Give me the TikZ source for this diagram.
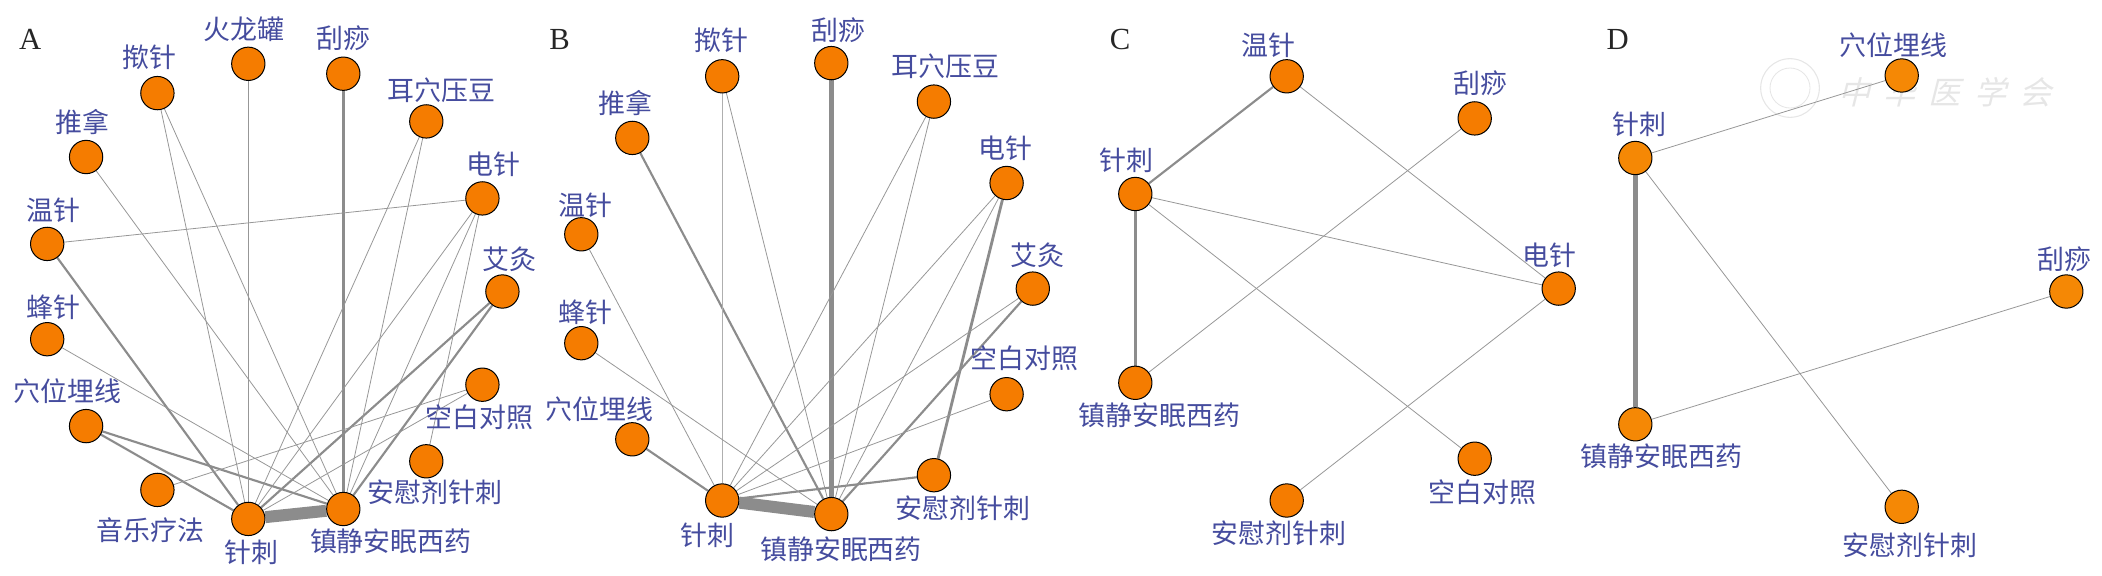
\documentclass[tikz,border=0pt]{standalone}
\usepackage{fontspec}
\setmainfont{Liberation Serif}
\newfontfamily\cjk{Noto Sans CJK SC}
\usetikzlibrary{backgrounds}
\definecolor{nodefill}{HTML}{F57C00}
\definecolor{nodefillD}{HTML}{F58805}
\definecolor{labelblue}{HTML}{454C9E}
\definecolor{edgegray}{HTML}{8C8C8C}
\definecolor{marklight}{HTML}{E6E6E6}
\tikzset{
  x=0.75pt,y=-0.75pt,
  vert/.style={circle,draw=black,line width=0.75pt,fill=nodefill,minimum size=25pt,inner sep=0pt},
  vertD/.style={vert,fill=nodefillD},
  lab/.style={text=labelblue,font=\cjk\fontsize{20.2}{22}\selectfont,inner sep=0pt},
  panel/.style={text=black!85,font=\fontsize{23}{25}\selectfont,inner sep=0pt},
  seal/.style={circle,draw=marklight,line width=0.8pt,fill=white,minimum size=44pt,inner sep=0pt},
  sealin/.style={circle,draw=marklight,line width=0.6pt,minimum size=30pt,inner sep=0pt},
  stamp/.style={text=marklight,font=\cjk\fontsize{24}{26}\selectfont,inner sep=0pt,xslant=0.25},
  e0/.style={draw=edgegray!70,line width=0.45pt},
  e1/.style={draw=edgegray!90,line width=0.6pt},
  e2/.style={draw=edgegray,line width=1.6pt},
  e3/.style={draw=edgegray,line width=2.1pt},
  e4/.style={draw=edgegray,line width=3.9pt},
  e5/.style={draw=edgegray,line width=9pt}
}
\begin{document}
\begin{tikzpicture}
\useasboundingbox (0,0) rectangle (2102,575);
% ===== A =====
\node[panel] (pA) at (30.3,39.2) {A};
\foreach \n/\x/\y in {a1/248.3/63.8,a2/343.3/73.7,a3/157.4/93.1,a4/426.3/121.4,a5/86.1/157,a6/482.4/198.4,a7/47.2/243.9,a8/502.4/291.5,a9/47.2/339.2,a10/482.4/384.7,a11/86.1/426.1,a12/426.3/461.3,a13/157.4/489.9,a14/248.3/518.9,a15/343.3/509}
  \node[vert] (\n) at (\x,\y) {};
\node[lab] (la1) at (243.8,29.3) {火龙罐};
\node[lab] (la2) at (343.3,38.5) {刮痧};
\node[lab] (la3) at (149.8,56.8) {揿针};
\node[lab] (la4) at (441.8,89.8) {耳穴压豆};
\node[lab] (la5) at (82,121.7) {推拿};
\node[lab] (la6) at (493.5,164.3) {电针};
\node[lab] (la7) at (53.4,209.8) {温针};
\node[lab] (la8) at (509,259.3) {艾灸};
\node[lab] (la9) at (53.4,306.9) {蜂针};
\node[lab] (la10) at (479.3,417.3) {空白对照};
\node[lab] (la11) at (67.1,391.3) {穴位埋线};
\node[lab] (la12) at (434.9,492.1) {安慰剂针刺};
\node[lab] (la13) at (150.1,529.9) {音乐疗法};
\node[lab] (la14) at (251.4,551.9) {针刺};
\node[lab] (la15) at (390.8,541.6) {镇静安眠西药};
% ===== B =====
\node[panel] (pB) at (559.6,39.2) {B};
\foreach \n/\x/\y in {b2/831.3/63.1,b3/722.2/76.3,b4/933.9/101.6,b5/632.3/137.9,b6/1006.6/183,b7/581.3/234.3,b8/1032.8/288.6,b9/581.3/343.2,b10/1006.6/394.2,b11/632.3/439.3,b12/933.9/475.2,b14/722.2/500.5,b15/831.3/514.1}
  \node[vert] (\n) at (\x,\y) {};
\node[lab] (lb2) at (838.9,30.1) {刮痧};
\node[lab] (lb3) at (721.5,40.3) {揿针};
\node[lab] (lb4) at (945.3,66) {耳穴压豆};
\node[lab] (lb5) at (625.4,103.4) {推拿};
\node[lab] (lb6) at (1005.2,147.8) {电针};
\node[lab] (lb7) at (585.4,205.4) {温针};
\node[lab] (lb8) at (1037.2,254.9) {艾灸};
\node[lab] (lb9) at (585.4,312.4) {蜂针};
\node[lab] (lb10) at (1024.1,358.6) {空白对照};
\node[lab] (lb11) at (599.2,408.9) {穴位埋线};
\node[lab] (lb12) at (963.2,507.9) {安慰剂针刺};
\node[lab] (lb14) at (707,535.4) {针刺};
\node[lab] (lb15) at (841,549) {镇静安眠西药};
% ===== C =====
\node[panel] (pC) at (1120,39.2) {C};
\foreach \n/\x/\y in {c7/1286.7/76.3,c2/1474.7/118.4,c14/1135.3/194,c6/1558.7/288.6,c15/1135.3/382.8,c10/1474.7/458.7,c12/1286.7/500.5}
  \node[vert] (\n) at (\x,\y) {};
\node[lab] (lc7) at (1268.7,45.1) {温针};
\node[lab] (lc2) at (1480,83.6) {刮痧};
\node[lab] (lc14) at (1126,159.9) {针刺};
\node[lab] (lc6) at (1549,254.9) {电针};
\node[lab] (lc15) at (1159.3,415.1) {镇静安眠西药};
\node[lab] (lc10) at (1482.3,492.5) {空白对照};
\node[lab] (lc12) at (1278.7,533.6) {安慰剂针刺};
% ===== D =====
\node[panel] (pD) at (1617.7,39.2) {D};
\foreach \n/\x/\y in {d11/1901.7/75.5,d14/1635.3/158,d2/2066.3/291.5,d15/1635.3/424.3,d12/1901.7/506.8}
  \node[vertD] (\n) at (\x,\y) {};
\node[lab] (ld11) at (1893.7,45.5) {穴位埋线};
\node[lab] (ld14) at (1639.3,124.7) {针刺};
\node[lab] (ld2) at (2064.3,259.6) {刮痧};
\node[lab] (ld15) at (1661.7,456.2) {镇静安眠西药};
\node[lab] (ld12) at (1910.3,545.3) {安慰剂针刺};
\begin{pgfonlayer}{background}
% watermark
\node[seal] (wseal) at (1790,88) {};
\node[sealin] (wsealin) at (1790,88) {};
\node[stamp] (wtext) at (1948,92) {中\hspace{10pt}华\hspace{10pt}医\hspace{10pt}学\hspace{10pt}会};
% A edges
\draw[e5] (a14)--(a15);
\draw[e3] (a2)--(a15);
\foreach \p/\q in {a7/a14,a11/a14,a11/a15,a8/a14,a8/a15}
  \draw[e2] (\p)--(\q);
\foreach \p/\q in {a7/a6,a5/a15,a3/a14,a3/a15,a1/a14,a4/a14,a4/a15,a6/a14,a6/a15,a6/a12,a9/a15,a13/a10,a14/a10}
  \draw[e1] (\p)--(\q);
% B edges
\draw[e5] (b14)--(b15);
\draw[e4] (b2)--(b15);
\draw[e3] (b6)--(b12);
\foreach \p/\q in {b5/b15,b11/b14,b8/b15,b12/b14}
  \draw[e2] (\p)--(\q);
\draw[e0] (b3)--(b14);
\foreach \p/\q in {b3/b15,b4/b14,b4/b15,b6/b14,b6/b15,b7/b14,b9/b15,b8/b14,b10/b14}
  \draw[e1] (\p)--(\q);
% C edges
\draw[e3] (c14)--(c15);
\draw[e2] (c14)--(c7);
\foreach \p/\q in {c7/c6,c2/c15,c14/c6,c14/c10,c6/c12}
  \draw[e1] (\p)--(\q);
% D edges
\draw[e4] (d14)--(d15);
\foreach \p/\q in {d14/d11,d14/d12,d15/d2}
  \draw[e1] (\p)--(\q);
\end{pgfonlayer}
\end{tikzpicture}
\end{document}
